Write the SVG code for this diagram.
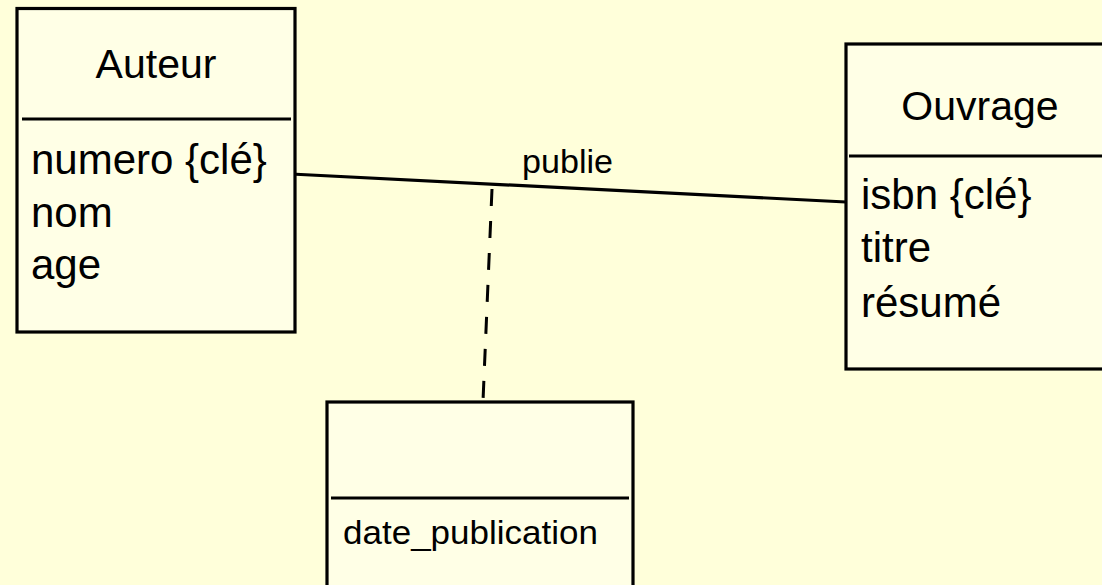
<svg xmlns="http://www.w3.org/2000/svg" width="1102" height="585" viewBox="0 0 1102 585">
  <style>
    .box { fill: #FFFFE6; stroke: #000; stroke-width: 3.2; }
    .sep { stroke: #000; stroke-width: 3.2; }
    .title { font-family: "Liberation Sans", Arial, sans-serif; font-size: 41px; fill: #000; text-anchor: middle; }
    .attr { font-family: "Liberation Sans", Arial, sans-serif; font-size: 42px; fill: #000; }
    .small { font-family: "Liberation Sans", Arial, sans-serif; font-size: 33px; fill: #000; }
    .assoc { stroke: #000; stroke-width: 3.2; fill: none; }
    .dash { stroke: #000; stroke-width: 3; fill: none; stroke-dasharray: 17 15; }
  </style>
  <rect width="1102" height="585" fill="#FFFFDA"/>

  <!-- association and association-class link -->
  <g id="connectors">
    <line class="assoc" x1="291" y1="174" x2="846" y2="202"/>
    <line class="dash" x1="492" y1="189" x2="483" y2="401"/>
    <text class="small" x="522" y="173" textLength="91" lengthAdjust="spacingAndGlyphs">publie</text>
  </g>

  <g id="auteur">
    <rect class="box" x="17" y="8.5" width="278" height="323.5"/>
    <line class="sep" x1="22" y1="119" x2="291" y2="119"/>
    <text class="title" x="156" y="78">Auteur</text>
    <text class="attr" x="31" y="174">numero {clé}</text>
    <text class="attr" x="31" y="227">nom</text>
    <text class="attr" x="31" y="279">age</text>
  </g>

  <g id="ouvrage">
    <rect class="box" x="846" y="44" width="270" height="325"/>
    <line class="sep" x1="849" y1="156" x2="1110" y2="156"/>
    <text class="title" x="980" y="120">Ouvrage</text>
    <text class="attr" x="861" y="209">isbn {clé}</text>
    <text class="attr" x="861" y="262">titre</text>
    <text class="attr" x="861" y="317">résumé</text>
  </g>

  <g id="publication">
    <rect class="box" x="327" y="402" width="306" height="200"/>
    <line class="sep" x1="331" y1="498" x2="629" y2="498"/>
    <text class="small" x="343" y="544" textLength="255" lengthAdjust="spacingAndGlyphs">date_publication</text>
  </g>
</svg>
